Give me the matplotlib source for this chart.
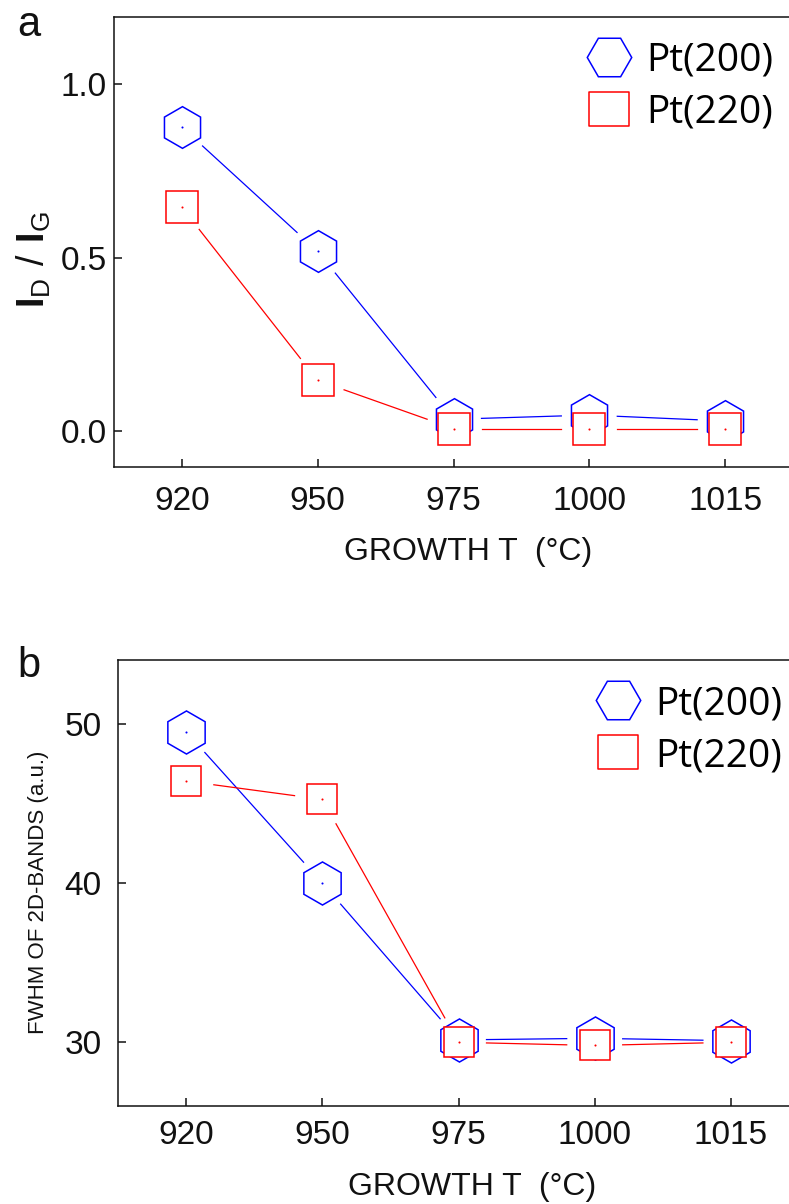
import numpy as np
import matplotlib
matplotlib.use("Agg")
from matplotlib import pyplot as plt
from matplotlib.lines import Line2D
from matplotlib.path import Path

plt.rcParams['font.family'] = ['Liberation Sans', 'DejaVu Sans']
plt.rcParams['mathtext.fontset'] = 'custom'
plt.rcParams['mathtext.rm'] = 'Liberation Sans'
plt.rcParams['mathtext.bf'] = 'Liberation Sans:bold'

# growth temperatures (categorical axis)
temps = ['920', '950', '975', '1000', '1015']

# (a) I_D / I_G ratio
ratio_200 = [0.877, 0.518, 0.033, 0.045, 0.028]
ratio_220 = [0.645, 0.145, 0.006, 0.006, 0.006]

# (b) FWHM of 2D bands (a.u.)
fwhm_200 = [49.5, 40.0, 30.15, 30.25, 30.1]
fwhm_220 = [46.4, 45.25, 30.0, 29.8, 30.0]

W, H = 789, 1204
BLUE = '#0000ff'
RED = '#ff0000'


def px(x, y):
    return x / W, 1 - y / H


def gapped_line(ax, xs, ys, color, gap=28):
    # segments stop short of the symbols, like Origin's "gap to symbol"
    tr = ax.transData
    inv = tr.inverted()
    pts = tr.transform(np.column_stack([xs, ys]))
    for p0, p1 in zip(pts[:-1], pts[1:]):
        d = p1 - p0
        u = d / np.hypot(*d)
        a = inv.transform(p0 + u * gap)
        b = inv.transform(p1 - u * gap)
        ax.plot([a[0], b[0]], [a[1], b[1]], color=color, lw=0.9, zorder=2)


def symbols(ax, xs, ys, color, marker, ms):
    ax.plot(xs, ys, ls='none', marker=marker, ms=ms, mec=color, mfc='white',
            mew=1.1, zorder=3)
    ax.plot(xs, ys, ls='none', marker='o', ms=1.5, mec='none', mfc=color,
            zorder=3)


def style_axes(ax, ylim, yticks, yfmt, xpad, ypad):
    ax.set_xlim(-0.5, 4.5)
    ax.set_ylim(*ylim)
    ax.set_xticks(np.arange(len(temps)))
    ax.set_xticklabels(temps)
    ax.set_yticks(yticks)
    ax.set_yticklabels([yfmt % v for v in yticks])
    ax.spines['right'].set_visible(False)
    for s in ax.spines.values():
        s.set_linewidth(1.1)
        s.set_color('#111111')
    ax.tick_params(direction='in', length=6, width=1.1, labelsize=24,
                   colors='#111111', top=False, right=False)
    ax.tick_params(axis='x', pad=xpad)
    ax.tick_params(axis='y', pad=ypad)


rect = Path([(-0.5, -0.42), (0.5, -0.42), (0.5, 0.42), (-0.5, 0.42),
             (-0.5, -0.42)], [1, 2, 2, 2, 79])


def legend(ax, x, y):
    handles = [
        Line2D([], [], ls='none', marker='H', ms=32, mec=BLUE, mfc='none',
               mew=1.1, label='Pt(200)'),
        Line2D([], [], ls='none', marker=rect, ms=29.5, mec=RED, mfc='none',
               mew=1.1, label='Pt(220)'),
    ]
    ax.legend(handles=handles, loc='upper left',
              bbox_to_anchor=px(x, y), bbox_transform=ax.figure.transFigure,
              frameon=False, borderpad=0, borderaxespad=0,
              handlelength=1.0, handletextpad=0.45, labelspacing=0.36,
              prop={'family': 'Open Sans', 'size': 28})


fig = plt.figure(figsize=(W / 100, H / 100), dpi=100)

x = np.arange(len(temps))

# panel a
ax1 = fig.add_axes([114 / W, 1 - 467 / H, 679 / W, 450 / H])
style_axes(ax1, (-0.105, 1.195), [0.0, 0.5, 1.0], '%.1f', 14, 5)
gapped_line(ax1, x, ratio_200, BLUE)
symbols(ax1, x, ratio_200, BLUE, 'h', 30)
gapped_line(ax1, x, ratio_220, RED)
symbols(ax1, x, ratio_220, RED, 's', 23)
legend(ax1, 590, 42)

# panel b
ax2 = fig.add_axes([118 / W, 1 - 1106 / H, 681 / W, 446 / H])
style_axes(ax2, (26, 54), [30, 40, 50], '%d', 10, 12)
gapped_line(ax2, x, fwhm_200, BLUE)
symbols(ax2, x, fwhm_200, BLUE, 'h', 31)
gapped_line(ax2, x, fwhm_220, RED)
symbols(ax2, x, fwhm_220, RED, 's', 22)
legend(ax2, 599, 685)

# axis titles and panel letters
fig.text(*px(468, 560), 'GROWTH T  (°C)', ha='center', va='baseline',
         fontsize=23, color='#111111')
fig.text(*px(472, 1195), 'GROWTH T  (°C)', ha='center', va='baseline',
         fontsize=23, color='#111111')
fig.text(*px(34, 260), r'$\mathbf{I}_{\mathrm{D}}\ /\ \mathbf{I}_{\mathrm{G}}$',
         rotation=90, ha='center', va='center', fontsize=27, color='#111111')
fig.text(*px(39, 892), 'FWHM OF 2D-BANDS (a.u.)', rotation=90,
         ha='center', va='center', fontsize=16, color='#111111')
fig.text(*px(17, 36), 'a', fontsize=30, va='baseline', color='#111111')
fig.text(*px(17, 677), 'b', fontsize=30, va='baseline', color='#111111')

fig.savefig('out.png', dpi=100)
